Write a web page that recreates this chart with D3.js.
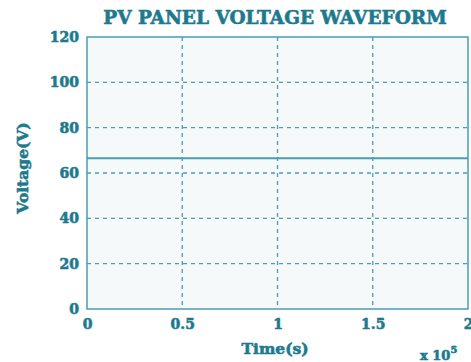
<!DOCTYPE html>
<html><head><meta charset="utf-8">
<script src="https://cdn.jsdelivr.net/npm/d3@7"></script>
<style>body{margin:0;background:#fff;} text{font-family:"DejaVu Serif",serif;font-weight:bold;}</style>
</head><body><svg id="c" width="471" height="362"></svg>
<script>
const timeVals = [0, 0.5, 1, 1.5, 2];
const voltageVals = [66.5, 66.5, 66.5, 66.5, 66.5];
const xTicks = [0, 0.5, 1, 1.5, 2];
const xTickLabels = ["0", "0.5", "1", "1.5", "2"];
const yTicks = [0, 20, 40, 60, 80, 100, 120];
const title = "PV PANEL VOLTAGE WAVEFORM";
const xLabel = "Time(s)";
const yLabel = "Voltage(V)";

const txt = "#1d7a8e", edge = "#4a9db2";
const svg = d3.select("#c");
const L = 87, R = 468, T = 37, B = 309;
const x = d3.scaleLinear().domain([0, 2]).range([L, R]);
const y = d3.scaleLinear().domain([0, 120]).range([B, T]);

svg.append("rect").attr("x", L).attr("y", T).attr("width", R - L).attr("height", B - T)
  .attr("fill", "#f5f9fa");

const g = svg.append("g");
g.selectAll(".gx").data(xTicks.slice(1, -1)).join("line")
  .attr("x1", d => x(d)).attr("x2", d => x(d)).attr("y1", T).attr("y2", B)
  .attr("stroke", edge).attr("stroke-width", 1.3).attr("stroke-dasharray", "4,4");
g.selectAll(".gy").data(yTicks.slice(1, -1)).join("line")
  .attr("y1", d => y(d)).attr("y2", d => y(d)).attr("x1", L).attr("x2", R)
  .attr("stroke", edge).attr("stroke-width", 1.3).attr("stroke-dasharray", "4,4");

svg.append("path").datum(timeVals.map((t, i) => [t, voltageVals[i]]))
  .attr("d", d3.line().x(d => x(d[0])).y(d => y(d[1])))
  .attr("fill", "none").attr("stroke", edge).attr("stroke-width", 2);

svg.append("rect").attr("x", L).attr("y", T).attr("width", R - L).attr("height", B - T)
  .attr("fill", "none").attr("stroke", edge).attr("stroke-width", 1.5);

function heavy(sel) { sel.attr("fill", txt).attr("stroke", txt).attr("stroke-width", 0.6); }

const xa = svg.append("g").attr("transform", `translate(0,${B})`)
  .call(d3.axisBottom(x).tickValues(xTicks).tickFormat((d, i) => xTickLabels[i]).tickSize(0).tickPadding(10));
xa.select(".domain").remove();
xa.selectAll("text").call(heavy).style("font-size", "14px");

const ya = svg.append("g").attr("transform", `translate(${L},0)`)
  .call(d3.axisLeft(y).tickValues(yTicks).tickSize(0).tickPadding(8));
ya.select(".domain").remove();
ya.selectAll("text").call(heavy).style("font-size", "14px");

svg.append("text").attr("x", 275).attr("y", 24).attr("text-anchor", "middle")
  .call(heavy).style("font-size", "18.5px").text(title);
svg.append("text").attr("x", 275).attr("y", 354).attr("text-anchor", "middle")
  .call(heavy).style("font-size", "15.5px").text(xLabel);
svg.append("text").attr("transform", "translate(28,168) rotate(-90)").attr("text-anchor", "middle")
  .call(heavy).style("font-size", "15.5px").text(yLabel);
const ex = svg.append("text").attr("x", 420).attr("y", 360).call(heavy).style("font-size", "13px");
ex.append("tspan").text("x 10");
ex.append("tspan").attr("dy", -7).style("font-size", "10px").text("5");
</script></body></html>
